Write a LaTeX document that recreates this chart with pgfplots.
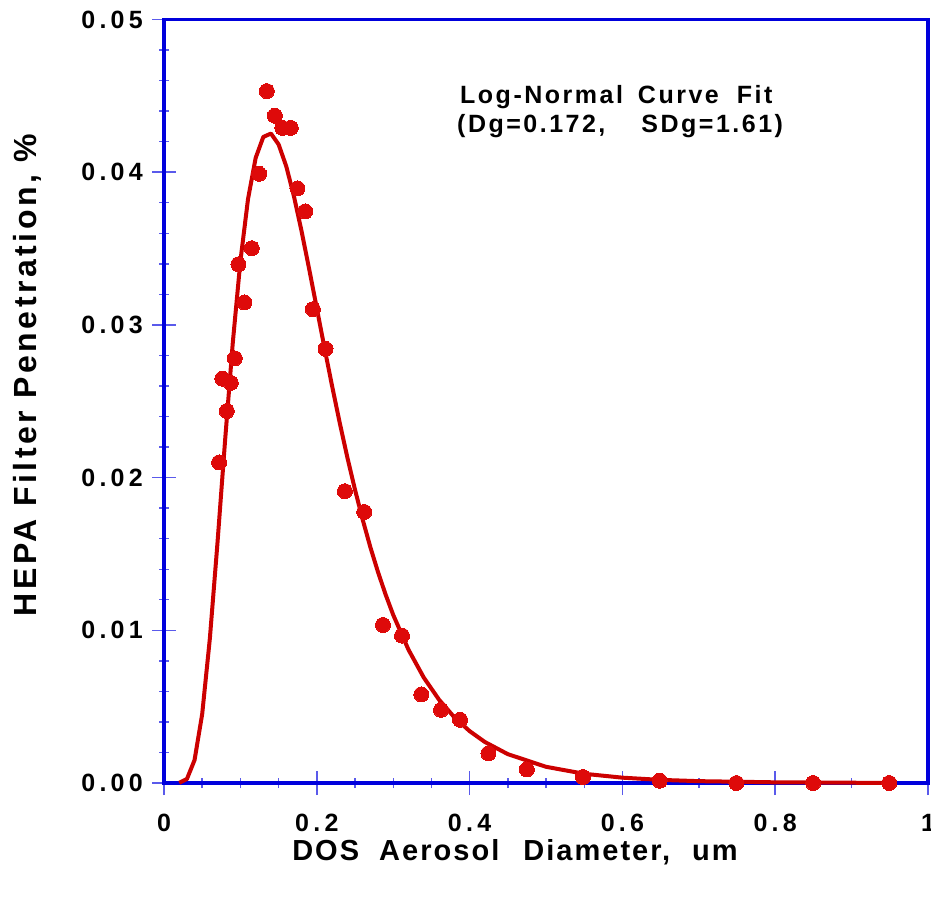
\documentclass[border=0pt]{standalone}
\usepackage{pgfplots}
\pgfplotsset{compat=1.18}
\usepackage{fontspec}
\setmainfont{Liberation Sans}
\newfontfamily\tickfont{Liberation Sans}[LetterSpace=17]
\newfontfamily\xlabfont{Liberation Sans}[LetterSpace=7]
\newfontfamily\ylabfont{Liberation Sans}[LetterSpace=11]
\newfontfamily\insetfont{Liberation Sans}[LetterSpace=10]
\definecolor{axblue}{RGB}{0,0,220}
\definecolor{tkblue}{RGB}{90,90,235}
\definecolor{curvered}{RGB}{204,0,0}
\definecolor{dotred}{RGB}{222,10,10}
\begin{document}
\begin{tikzpicture}
\begin{axis}[
  name=ax,
  scale only axis,
  width=764pt, height=763.5pt,
  xmin=0, xmax=1, ymin=0, ymax=0.05,
  axis line style={axblue, line width=3.5pt},
  xtick={0,0.2,0.4,0.6,0.8,1},
  xticklabels={0,0.2,0.4,0.6,0.8,1},
  ytick={0,0.01,0.02,0.03,0.04,0.05},
  yticklabels={0.00,0.01,0.02,0.03,0.04,0.05},
  minor xtick={0.05,0.1,0.15,0.25,0.3,0.35,0.45,0.5,0.55,0.65,0.7,0.75,0.85,0.9,0.95},
  minor ytick={0.002,0.004,0.006,0.008,0.012,0.014,0.016,0.018,0.022,0.024,0.026,0.028,0.032,0.034,0.036,0.038,0.042,0.044,0.046,0.048},
  xtick pos=bottom, ytick pos=left,
  tick align=center,
  major tick length=24pt, minor tick length=10pt,
  major tick style={tkblue, line width=1.6pt},
  minor tick style={tkblue, line width=1.4pt},
  xticklabel style={font=\tickfont\bfseries\fontsize{25}{30}\selectfont, anchor=base, inner sep=0pt, yshift=-36pt},
  yticklabel style={font=\tickfont\bfseries\fontsize{25}{30}\selectfont, anchor=east, inner sep=0pt, xshift=-9pt},
  xlabel={DOS\hspace{20pt}Aerosol\hspace{24pt}Diameter,\hspace{22pt}um},
  ylabel={HEPA Filter Penetration, \%},
  xlabel style={font=\xlabfont\bfseries\fontsize{29}{34}\selectfont, at={(axis description cs:0.4594,-0.1009)}, anchor=base, inner sep=0pt},
  ylabel style={font=\ylabfont\bfseries\fontsize{32}{36}\selectfont, at={(axis description cs:-0.1976,0.5344)}, anchor=north, inner sep=0pt},
  clip=false,
]
\addplot[curvered, line width=4pt, line join=round] coordinates {
(0.02,0.0000121) (0.03,0.000262) (0.04,0.001502) (0.05,0.004521) (0.06,0.009449)
(0.07,0.01572) (0.08,0.02246) (0.09,0.02881) (0.10,0.03418) (0.11,0.03825)
(0.12,0.04094) (0.13,0.04231) (0.14,0.04253) (0.15,0.04182) (0.16,0.04039)
(0.17,0.03844) (0.18,0.03615) (0.19,0.03366) (0.20,0.03109) (0.21,0.02851)
(0.22,0.02600) (0.23,0.02359) (0.24,0.02132) (0.25,0.01921) (0.26,0.01726)
(0.27,0.01546) (0.28,0.01383) (0.29,0.01235) (0.30,0.01101) (0.32,0.008731)
(0.34,0.006906) (0.36,0.005455) (0.38,0.004305) (0.40,0.003399) (0.42,0.002685)
(0.45,0.00189) (0.50,0.001061) (0.55,0.000604) (0.60,0.000349) (0.65,0.000204)
(0.70,0.000121) (0.80,0.0000447) (0.90,0.0000173) (0.95,0.0000105)
};
\addplot[only marks, mark=*, mark size=7.5pt, mark options={fill=dotred, draw=dotred, line width=0pt}] coordinates {
(0.0721,0.02099) (0.0764,0.02648) (0.0822,0.02436) (0.0874,0.02620) (0.0927,0.02781)
(0.0974,0.03397) (0.1052,0.03147) (0.1149,0.03502) (0.1245,0.03989) (0.1346,0.04531)
(0.1451,0.04370) (0.1550,0.04290) (0.1660,0.04290) (0.1747,0.03894) (0.1848,0.03743)
(0.1949,0.03103) (0.2114,0.02843) (0.2368,0.01911) (0.2621,0.01775) (0.2866,0.01035)
(0.3115,0.00965) (0.3368,0.00580) (0.3626,0.00479) (0.3875,0.00414) (0.4246,0.00194)
(0.4749,0.00089) (0.5483,0.00039) (0.6488,0.00015) (0.7493,0.00000) (0.8497,0.00000)
(0.9493,0.00000)
};
\node[anchor=base west, inner sep=0pt, font=\insetfont\bfseries\fontsize{25}{30}\selectfont] at (axis cs:0.3874,0.04453) {Log-Normal\hspace{15pt}Curve\hspace{18pt}Fit};
\node[anchor=base west, inner sep=0pt, font=\insetfont\bfseries\fontsize{25}{30}\selectfont] at (axis cs:0.3835,0.04263) {(Dg=0.172,\hspace{36pt}SDg=1.61)};
\end{axis}
\pgfresetboundingbox
\path ([xshift=-164pt,yshift=-119pt]ax.south west) rectangle ([xshift=3pt,yshift=19.5pt]ax.north east);
\end{tikzpicture}
\end{document}
